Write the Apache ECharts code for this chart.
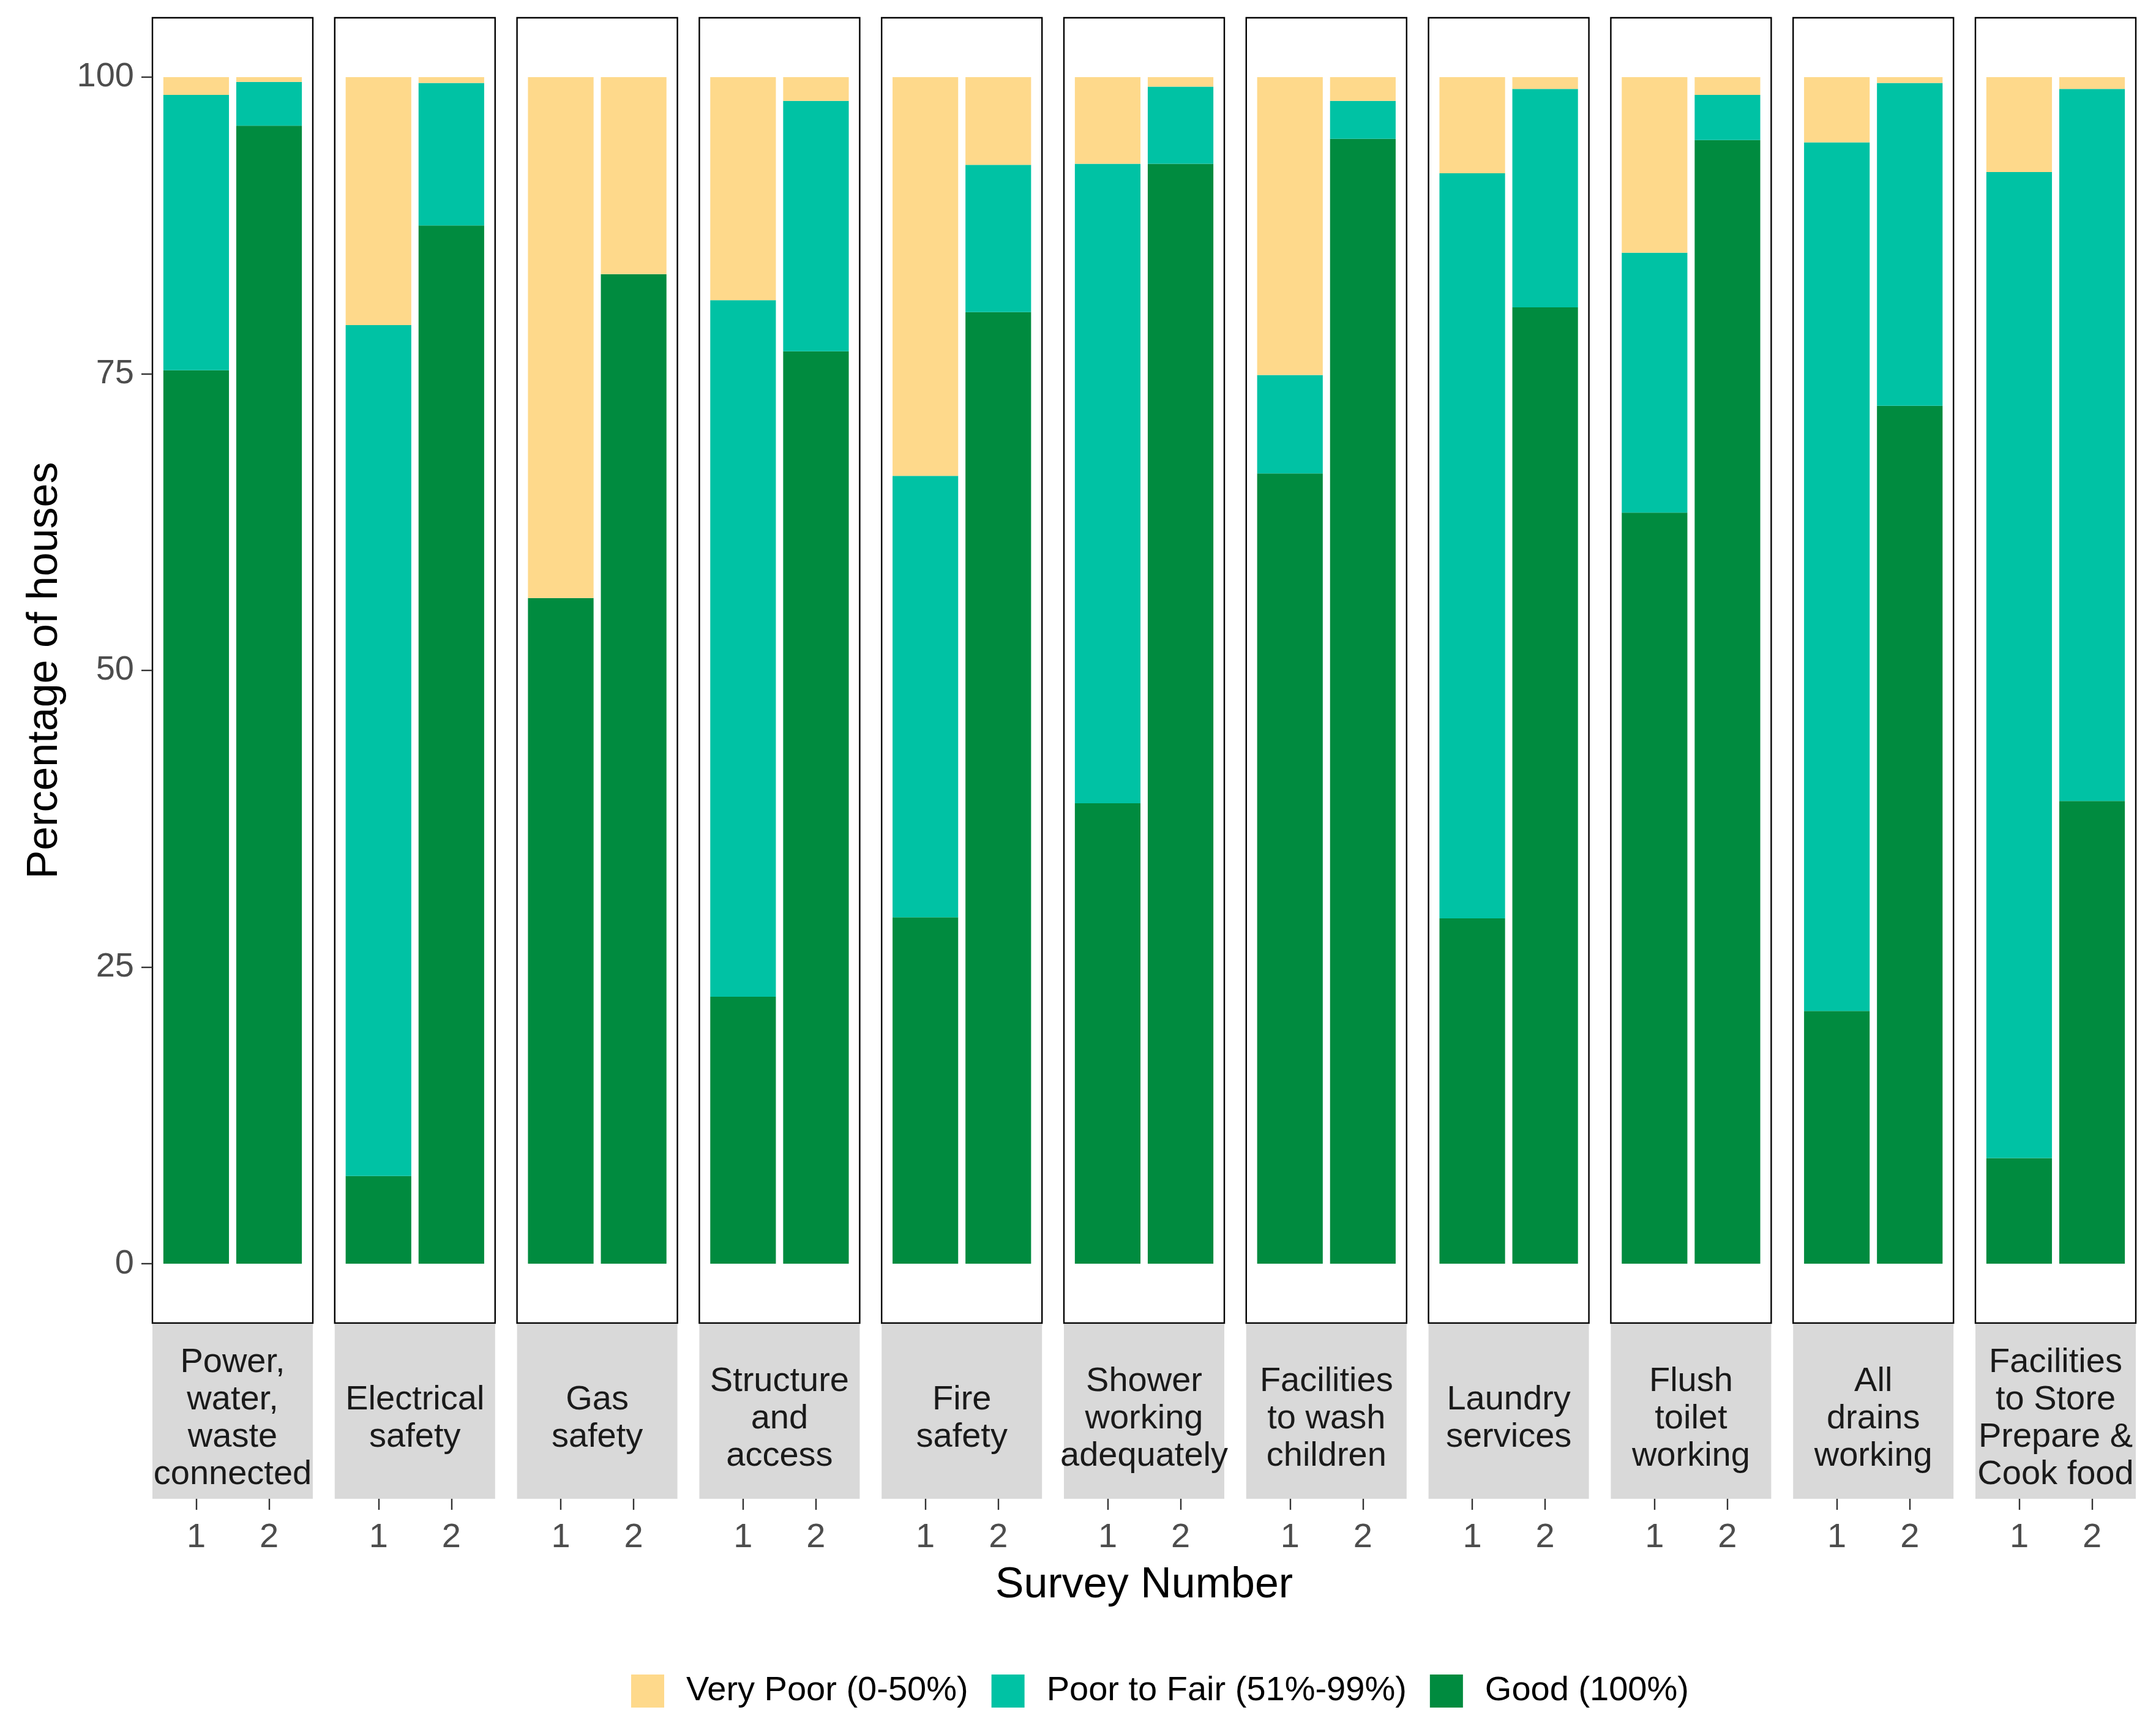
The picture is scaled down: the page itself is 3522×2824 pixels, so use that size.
<!DOCTYPE html>
<html><head><meta charset="utf-8">
<script src="https://cdn.jsdelivr.net/npm/echarts@6/dist/echarts.min.js"></script>
<style>html,body{margin:0;padding:0;background:#fff}#c{width:3522px;height:2824px}</style>
</head><body><div id="c"></div>
<script>
const categories = ["Power,\nwater,\nwaste\nconnected","Electrical\nsafety","Gas\nsafety","Structure\nand\naccess","Fire\nsafety","Shower\nworking\nadequately","Facilities\nto wash\nchildren","Laundry\nservices","Flush\ntoilet\nworking","All\ndrains\nworking","Facilities\nto Store\nPrepare &\nCook food"];
const surveys = ['1', '2'];
const yTicks = [0, 25, 50, 75, 100];
const seriesNames = ["Very Poor (0-50%)", "Poor to Fair (51%-99%)", "Good (100%)"];
// survey 1 values per category
const good1     = [75.3, 7.4, 56.1, 22.5, 29.2, 38.8, 66.6, 29.1, 63.3, 21.3, 8.9];
const fair1     = [23.2, 71.7, 0.0, 58.7, 37.2, 53.9, 8.3, 62.8, 21.9, 73.2, 83.1];
const veryPoor1 = [1.5, 20.9, 43.9, 18.8, 33.6, 7.3, 25.1, 8.1, 14.8, 5.5, 8.0];
// survey 2 values per category
const good2     = [95.9, 87.5, 83.4, 76.9, 80.2, 92.7, 94.8, 80.6, 94.7, 72.3, 39.0];
const fair2     = [3.7, 12.0, 0.0, 21.1, 12.4, 6.5, 3.2, 18.4, 3.8, 27.2, 60.0];
const veryPoor2 = [0.4, 0.5, 16.6, 2.0, 7.4, 0.8, 2.0, 1.0, 1.5, 0.5, 1.0];

const colors = {vp: '#FED98B', pf: '#00C2A4', good: '#008B3F'};
const FONT = 'Liberation Sans, Arial, sans-serif';

// x scale slots of 0.2 from 0.4 to 2.6 (ggplot-style expansion around surveys 1 and 2)
const xSlots = [];
for (let k = 0; k < 12; k++) {
  const v = Math.round((0.4 + 0.2 * k) * 10) / 10;
  xSlots.push(surveys.indexOf(String(v)) >= 0 ? String(v) : ('s' + k));
}
const isSurvey = (idx, val) => surveys.indexOf(val) >= 0;

const chart = echarts.init(document.getElementById('c'), null, {renderer: 'canvas'});
const L0 = 249, PW = 262, PITCH = 297.8, TOP = 29, PH = 2132;
const STRIP_TOP = TOP + PH + 2, STRIP_H = 285;
const barW = 0.9 / 2.2 * PW;

const grids = [], xAxes = [], yAxes = [], series = [], graphics = [];
categories.forEach((cat, i) => {
  const left = L0 + i * PITCH;
  grids.push({left: left, top: TOP, width: PW, height: PH, show: true, borderColor: '#000', borderWidth: 2.4, backgroundColor: 'transparent', containLabel: false});
  xAxes.push({gridIndex: i, type: 'category', data: xSlots, boundaryGap: false, position: 'bottom', offset: STRIP_H + 2,
    axisLine: {show: false, onZero: false}, splitLine: {show: false},
    axisTick: {show: true, length: 18, interval: isSurvey, lineStyle: {color: '#333', width: 2.4}},
    axisLabel: {show: true, interval: isSurvey, fontSize: 56, color: '#4D4D4D', fontFamily: FONT, margin: 36}});
  yAxes.push({gridIndex: i, type: 'value', min: -5, max: 105, show: i === 0,
    axisLine: {show: false, onZero: false}, splitLine: {show: false},
    axisTick: {show: i === 0, length: 18, customValues: yTicks, lineStyle: {color: '#333', width: 2.4}},
    axisLabel: {show: i === 0, customValues: yTicks, fontSize: 56, color: '#4D4D4D', fontFamily: FONT, margin: 30}});
  const mk = (name, v1, v2, color) => ({
    name: name, type: 'bar', stack: 's' + i, xAxisIndex: i, yAxisIndex: i, barWidth: barW,
    itemStyle: {color: color}, emphasis: {disabled: true},
    data: [[surveys[0], v1[i]], [surveys[1], v2[i]]]
  });
  series.push(mk(seriesNames[2], good1, good2, colors.good));
  series.push(mk(seriesNames[1], fair1, fair2, colors.pf));
  series.push(mk(seriesNames[0], veryPoor1, veryPoor2, colors.vp));
  graphics.push({type: 'rect', shape: {x: left, y: STRIP_TOP, width: PW, height: STRIP_H}, style: {fill: '#D9D9D9'}, silent: true});
  graphics.push({type: 'text', x: left + PW / 2, y: STRIP_TOP + STRIP_H / 2 + 12,
    style: {text: cat, fontSize: 56, lineHeight: 61, fill: '#1A1A1A', fontFamily: FONT, align: 'center', verticalAlign: 'middle'}, silent: true});
});
graphics.push({type: 'text', x: 74, y: TOP + PH / 2, rotation: Math.PI / 2,
  style: {text: 'Percentage of houses', fontSize: 70, fill: '#000', fontFamily: FONT, align: 'center', verticalAlign: 'middle'}});
graphics.push({type: 'text', x: (L0 + L0 + 10 * PITCH + PW) / 2, y: 2590,
  style: {text: 'Survey Number', fontSize: 70, fill: '#000', fontFamily: FONT, align: 'center', verticalAlign: 'middle'}});

chart.setOption({
  animation: false,
  backgroundColor: '#fff',
  grid: grids, xAxis: xAxes, yAxis: yAxes, series: series,
  legend: {data: seriesNames.map(n => ({name: n, icon: 'rect'})), left: 1026, top: 2729, itemWidth: 54, itemHeight: 54, itemGap: 38,
    textStyle: {fontSize: 56, color: '#000', fontFamily: FONT, padding: [0, 0, 0, 31]}, selectedMode: false},
  graphic: graphics
});
</script></body></html>
